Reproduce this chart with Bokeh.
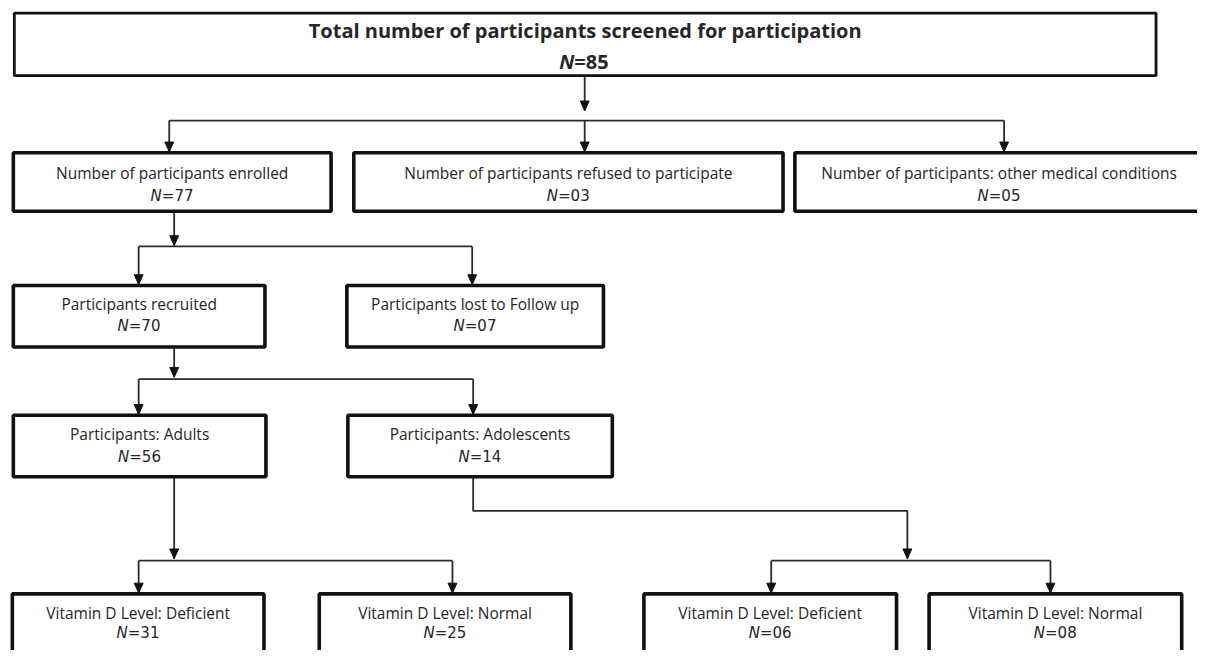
from bokeh.plotting import figure
from bokeh.models import Range1d
from bokeh.core.properties import value
from bokeh.embed import file_html
from bokeh.resources import INLINE

# ---------------- data ----------------
labels = [
    "Total number of participants screened for participation",
    "Number of participants enrolled",
    "Number of participants refused to participate",
    "Number of participants: other medical conditions",
    "Participants recruited",
    "Participants lost to Follow up",
    "Participants: Adults",
    "Participants: Adolescents",
    "Vitamin D Level: Deficient",
    "Vitamin D Level: Normal",
    "Vitamin D Level: Deficient",
    "Vitamin D Level: Normal",
]
counts = [85, 77, 3, 5, 70, 7, 56, 14, 31, 25, 6, 8]

# ---------------- layout (reference picture pixel coordinates) ----------------
box_left = [14, 13, 358, 805, 13, 351, 13, 352, 12, 323, 652, 941]
box_right = [1171, 335, 793, 1230, 268, 611, 269, 620, 267, 578, 908, 1197]
box_top = [13, 156, 156, 156, 292, 292, 425, 425, 608, 608, 608, 608]
box_bot = [77, 216, 216, 216, 355, 355, 488, 488, 700, 700, 700, 700]
line1_y = [31, 177, 177, 177, 311, 311, 444, 444, 628, 628, 628, 628]
line2_y = [62, 200, 200, 200, 333, 333, 468, 468, 648, 648, 648, 648]

# connector polylines: (points, ends_with_arrow)
connectors = [
    ([(592, 77), (592, 113)], True),
    ([(171, 123), (1017, 123)], False),
    ([(171, 123), (171, 155)], True),
    ([(592, 123), (592, 155)], True),
    ([(1017, 123), (1017, 155)], True),
    ([(176, 216), (176, 251)], True),
    ([(140, 252), (478, 252)], False),
    ([(140, 252), (140, 291)], True),
    ([(478, 252), (478, 291)], True),
    ([(176, 355), (176, 386)], True),
    ([(140, 388), (479, 388)], False),
    ([(140, 388), (140, 424)], True),
    ([(479, 388), (479, 424)], True),
    ([(176, 488), (176, 572)], True),
    ([(140, 574), (458, 574)], False),
    ([(140, 574), (140, 607)], True),
    ([(458, 574), (458, 607)], True),
    ([(479, 488), (479, 523), (919, 523), (919, 572)], True),
    ([(781, 574), (1064, 574)], False),
    ([(781, 574), (781, 607)], True),
    ([(1064, 574), (1064, 607)], True),
]

W, H = 1197, 650
p = figure(width=W, height=H, x_range=Range1d(0, 1213), y_range=Range1d(666, 0),
           output_backend="svg", toolbar_location=None, min_border=0)
p.axis.visible = False
p.grid.visible = False
p.outline_line_color = None
p.background_fill_color = "white"
p.border_fill_color = "white"

LINE_C = "#2b2b2b"
TEXT_C = "#262626"

# connector lines
xs, ys, axs, ays = [], [], [], []
for pts, arrow in connectors:
    xs.append([q[0] for q in pts])
    ys.append([q[1] for q in pts])
    if arrow:
        tx, ty = pts[-1]
        axs.append([tx - 4.5, tx + 4.5, tx])
        ays.append([ty - 10, ty - 10, ty])
p.multi_line(xs, ys, line_color=LINE_C, line_width=1.8)

# boxes
widths = [2.8] + [3.6] * (len(labels) - 1)
p.quad(left=box_left, right=box_right, top=box_top, bottom=box_bot,
       fill_color="white", line_color="#111111", line_width=widths)

p.patches(axs, ays, fill_color="#111111", line_color="#111111", line_width=1)

# texts
cx = [(a + b) / 2 for a, b in zip(box_left, box_right)]
cx[3] = 1012
# title
p.text(x=[cx[0]], y=[line1_y[0]], text=[labels[0]], text_font=value("Open Sans"),
       text_font_style="bold", text_font_size="20px", text_align="center",
       text_baseline="middle", text_color=TEXT_C)
p.text(x=[cx[0] - 11], y=[line2_y[0]], text=["N"], text_font=value("Open Sans"),
       text_font_style="bold italic", text_font_size="20px", text_align="right",
       text_baseline="middle", text_color=TEXT_C)
p.text(x=[cx[0] - 11], y=[line2_y[0]], text=["=%02d" % counts[0]], text_font=value("Open Sans"),
       text_font_style="bold", text_font_size="20px", text_align="left",
       text_baseline="middle", text_color=TEXT_C)

n = len(labels)
p.text(x=cx[1:], y=line1_y[1:], text=labels[1:], text_font=value("Open Sans"),
       text_font_size="15.5px", text_align="center", text_baseline="middle",
       text_color=TEXT_C)
x0 = [c - 10.5 for c in cx[1:]]
p.text(x=x0, y=line2_y[1:], text=["N"] * (n - 1), text_font=value("DejaVu Sans"),
       text_font_style="italic", text_font_size="15px", text_align="right",
       text_baseline="middle", text_color=TEXT_C)
p.text(x=x0, y=line2_y[1:], text=["=%02d" % c for c in counts[1:]],
       text_font=value("DejaVu Sans"), text_font_size="15px", text_align="left",
       text_baseline="middle", text_color=TEXT_C)

open("out.html", "w").write(file_html(p, INLINE))
